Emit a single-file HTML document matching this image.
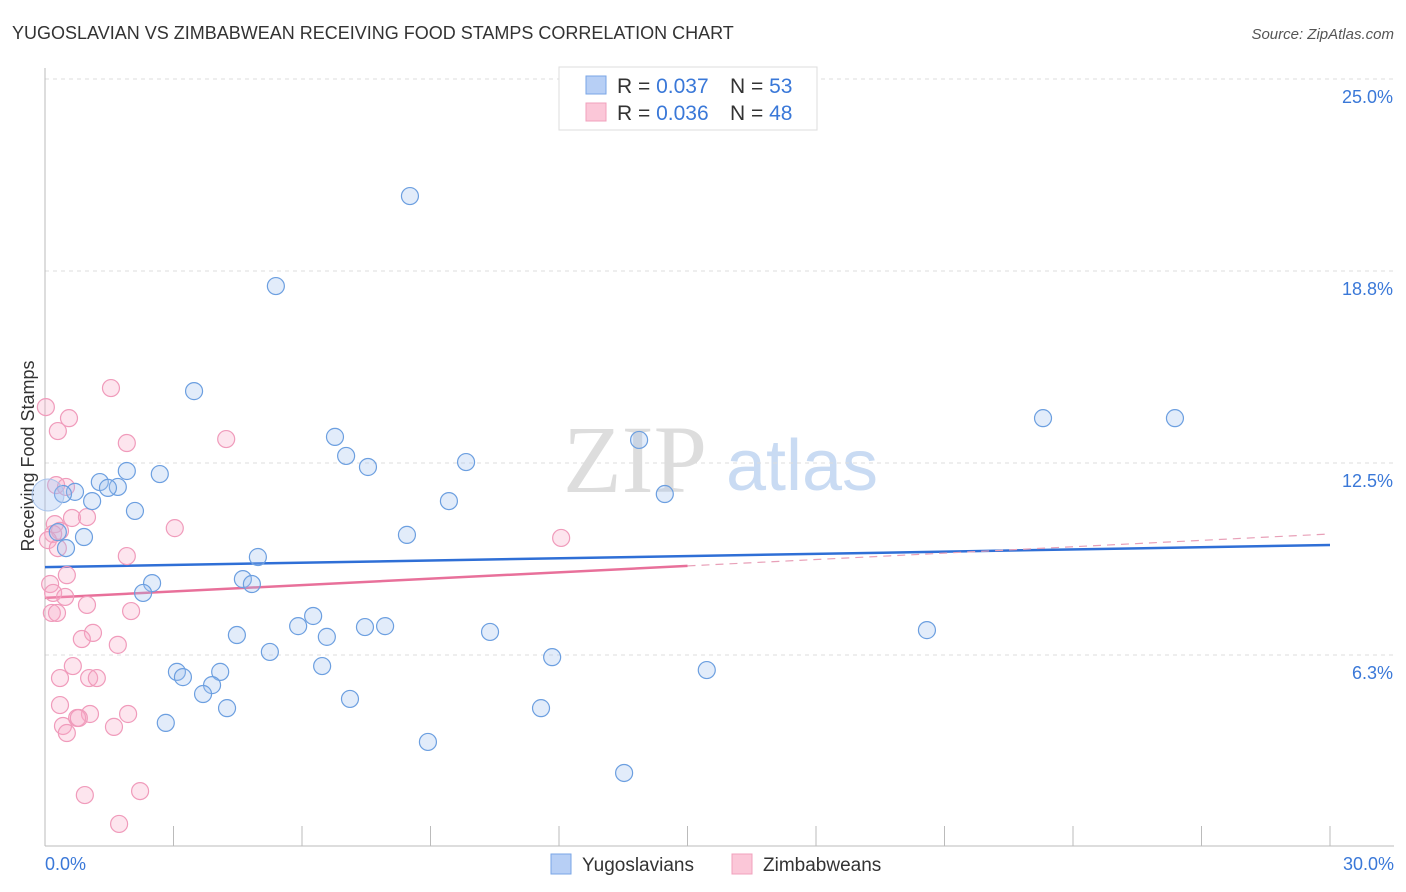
<!DOCTYPE html>
<html><head><meta charset="utf-8">
<style>
body{margin:0;background:#fff;font-family:"Liberation Sans",sans-serif;}
svg{display:block}
</style></head>
<body>
<svg id="chart" width="1406" height="892">
<text x="12" y="39" font-size="18" fill="#333">YUGOSLAVIAN VS ZIMBABWEAN RECEIVING FOOD STAMPS CORRELATION CHART</text>
<text x="1394" y="39" font-size="15" fill="#555" font-style="italic" text-anchor="end">Source: ZipAtlas.com</text>
<text transform="translate(34,456) rotate(-90)" font-size="18" fill="#333" text-anchor="middle">Receiving Food Stamps</text>
<g>
<text x="635" y="492" font-size="96" fill="#ddd" font-family="Liberation Serif,serif" text-anchor="middle">ZIP</text>
<text x="802" y="490" font-size="72" fill="#c9dbf3" text-anchor="middle">atlas</text>
</g>
<g id="grid"></g>
<g id="axes"></g>
<g id="lines"></g>
<g id="points"></g>
<g>
<rect x="559" y="67" width="258" height="63" fill="#fff" stroke="#ddd"/>
<rect x="586" y="76" width="20" height="18" fill="#b7cff5" stroke="#7aa6e6"/>
<rect x="586" y="103" width="20" height="18" fill="#fbc7d8" stroke="#f0a0bc"/>
<text x="617" y="93" font-size="21" fill="#333">R = <tspan fill="#3a78d8">0.037</tspan></text>
<text x="730" y="93" font-size="21" fill="#333">N = <tspan fill="#3a78d8">53</tspan></text>
<text x="617" y="120" font-size="21" fill="#333">R = <tspan fill="#3a78d8">0.036</tspan></text>
<text x="730" y="120" font-size="21" fill="#333">N = <tspan fill="#3a78d8">48</tspan></text>
</g>
<g>
<rect x="551" y="854" width="20" height="20" fill="#b7cff5" stroke="#7aa6e6"/>
<text x="582" y="871" font-size="19" fill="#333">Yugoslavians</text>
<rect x="732" y="854" width="20" height="20" fill="#fbc7d8" stroke="#f0a0bc"/>
<text x="763" y="871" font-size="19" fill="#333">Zimbabweans</text>
</g>
</svg>
<script>
const yTicks=[6.3,12.5,18.8,25.0];
const yTickVals=[6.25,12.5,18.75,25];
const xTickCount=10;
const blueX=[8.52,5.39,3.48,6.77,13.87,23.30,26.38,7.03,7.54,9.83,1.91,2.68,1.28,1.70,1.47,0.70,1.10,0.42,14.47,9.43,2.10,0.30,0.91,8.45,0.49,4.97,4.62,4.83,2.50,2.29,6.26,5.91,6.58,7.47,7.94,4.48,10.39,20.59,5.25,11.84,6.47,3.08,4.09,3.22,3.90,3.69,7.12,15.45,4.25,11.58,2.82,8.94,13.52];
const blueY=[21.19,18.26,14.84,13.35,13.25,13.96,13.96,12.73,12.37,12.53,12.24,12.14,11.88,11.72,11.69,11.56,11.26,11.49,11.49,11.26,10.94,10.25,10.09,10.16,9.73,9.44,8.72,8.56,8.59,8.27,7.52,7.19,6.84,7.16,7.19,6.90,7.00,7.06,6.35,6.18,5.89,5.70,5.70,5.53,5.27,4.98,4.82,5.76,4.52,4.52,4.04,3.42,2.41];
const pinkX=[1.54,0.02,0.56,0.30,1.91,4.23,0.26,0.49,3.03,12.05,0.23,0.35,0.63,0.98,0.19,0.07,0.30,1.91,0.51,0.12,0.19,0.47,0.98,2.01,0.16,0.28,1.12,0.86,1.70,0.65,0.35,1.03,1.21,0.35,1.05,1.94,0.75,0.79,0.42,1.61,0.51,0.93,2.22,1.73];
const pinkY=[14.94,14.32,13.96,13.54,13.15,13.28,11.78,11.72,10.38,10.06,10.51,10.29,10.71,10.74,10.19,9.99,9.73,9.47,8.85,8.56,8.27,8.14,7.88,7.68,7.62,7.62,6.97,6.77,6.58,5.89,5.50,5.50,5.50,4.62,4.33,4.33,4.20,4.20,3.94,3.91,3.71,1.69,1.82,0.75];
const blueTrend=[9.11,9.83];
const pinkTrend=[8.11,9.15,10.19];
const NS='http://www.w3.org/2000/svg';
const X=v=>45+v/30*1285;
const Y=v=>847-v/6.25*192;
function mk(tag,attrs,parent){const e=document.createElementNS(NS,tag);for(const k in attrs)e.setAttribute(k,attrs[k]);document.getElementById(parent).appendChild(e);return e;}
yTickVals.forEach((v,i)=>{
  const g=mk('line',{x1:45,x2:1394,y1:Y(v),y2:Y(v),stroke:'#ddd','stroke-dasharray':'4,4'},'grid');
  
  
  const t=mk('text',{x:1393,y:Y(v)+24,'font-size':18,fill:'#3a78d8','text-anchor':'end'},'axes');
  t.textContent=yTicks[i].toFixed(1)+'%';
  
  
});
mk('line',{x1:45,x2:45,y1:68,y2:846,stroke:'#bbb'},'axes');
mk('line',{x1:45,x2:1394,y1:846,y2:846,stroke:'#bbb'},'axes');
for(let i=0;i<=xTickCount;i++){
  const l=mk('line',{x1:X(i*3),x2:X(i*3),y1:826,y2:846,stroke:'#bbb'},'axes');
  
  
}
const x0=mk('text',{x:45,y:870,'font-size':18,fill:'#3a78d8'},'axes');x0.textContent='0.0%';


const x1=mk('text',{x:1394,y:870,'font-size':18,fill:'#3a78d8','text-anchor':'end'},'axes');x1.textContent='30.0%';


pinkX.forEach((v,i)=>{
  const c=mk('circle',{cx:X(v),cy:Y(pinkY[i]),r:8.5,fill:'rgba(248,170,198,0.3)',stroke:'#f09bbb','stroke-width':1.2},'points');
  
  
});
blueX.forEach((v,i)=>{
  const c=mk('circle',{cx:X(v),cy:Y(blueY[i]),r:8.5,fill:'rgba(160,192,240,0.3)',stroke:'#6c9fe0','stroke-width':1.2},'points');
  
  
});
const big=mk('circle',{cx:X(0.07),cy:Y(11.46),r:16,fill:'rgba(160,192,240,0.35)',stroke:'#a9c4ec','stroke-width':1},'points');


const bl=mk('line',{x1:X(0),y1:Y(blueTrend[0]),x2:X(30),y2:Y(blueTrend[1]),stroke:'#2f6fd6','stroke-width':2.5},'lines');


const pl=mk('line',{x1:X(0),y1:Y(pinkTrend[0]),x2:X(15),y2:Y(pinkTrend[1]),stroke:'#e8709a','stroke-width':2.5},'lines');


const pd=mk('line',{x1:X(15),y1:Y(pinkTrend[1]),x2:X(30),y2:Y(pinkTrend[2]),stroke:'#e8a0b8','stroke-width':1.2,'stroke-dasharray':'8,6'},'lines');


</script>
</body></html>
